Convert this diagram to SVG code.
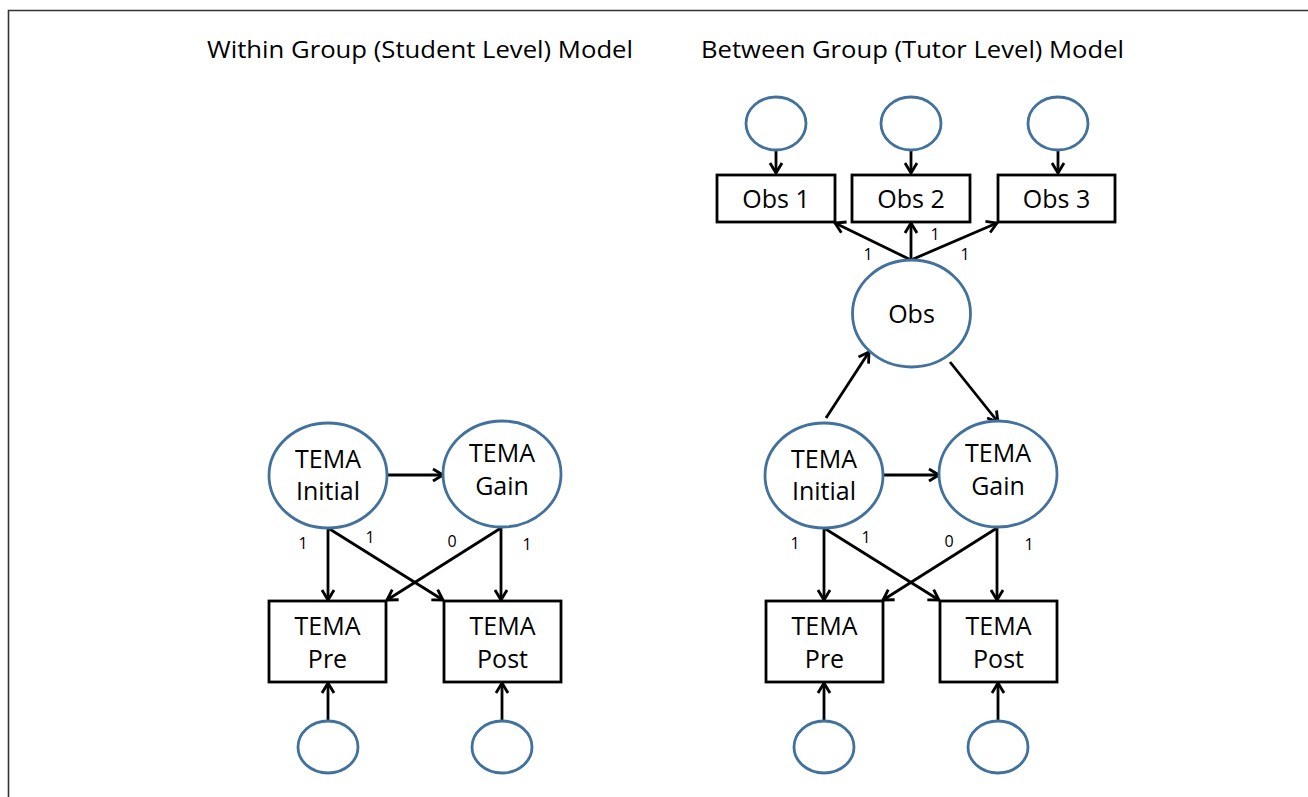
<svg xmlns="http://www.w3.org/2000/svg" width="1308" height="797" viewBox="0 0 1308 797">
<defs>
<marker id="ah" markerUnits="userSpaceOnUse" markerWidth="16" markerHeight="16" viewBox="0 0 16 16" refX="13" refY="8" orient="auto">
<path d="M3,2 L13,8 L3,14" fill="none" stroke="#000" stroke-width="2.8"/>
</marker>
</defs>
<style>
.t{font-family:"Open Sans","Liberation Sans",sans-serif;fill:#000;}
.title{font-size:23px;}
.nt{font-size:25px;text-anchor:middle;}
.lb{font-size:16px;text-anchor:middle;}
.el{fill:#fff;stroke:#41719C;stroke-width:2.8;}
.bx{fill:#fff;stroke:#000;stroke-width:2.8;}
.cn line{stroke:#000;stroke-width:2.8;marker-end:url(#ah);}
</style>
<rect width="1308" height="797" fill="#fff"/>
<path d="M8.5,797 L8.5,10.5 L1308,10.5" fill="none" stroke="#333" stroke-width="1.6"/>
<text class="t title" x="207" y="58" textLength="426" lengthAdjust="spacingAndGlyphs">Within Group (Student Level) Model</text>
<text class="t title" x="701" y="58" textLength="423" lengthAdjust="spacingAndGlyphs">Between Group (Tutor Level) Model</text>

<g class="cn" id="connectors">
<line x1="387" y1="475" x2="443" y2="475"/>
<line x1="328" y1="528" x2="328" y2="600"/>
<line x1="328" y1="528" x2="443" y2="600"/>
<line x1="501" y1="528" x2="387" y2="600"/>
<line x1="501" y1="528" x2="501" y2="600"/>
<line x1="328" y1="721" x2="328" y2="683"/>
<line x1="502" y1="721" x2="502" y2="683"/>

<line x1="883" y1="475" x2="939" y2="475"/>
<line x1="824" y1="528" x2="824" y2="600"/>
<line x1="824" y1="528" x2="939" y2="600"/>
<line x1="997" y1="528" x2="883" y2="600"/>
<line x1="997" y1="528" x2="997" y2="600"/>
<line x1="824" y1="721" x2="824" y2="683"/>
<line x1="998" y1="721" x2="998" y2="683"/>

<line x1="776" y1="150" x2="776" y2="173"/>
<line x1="911" y1="150" x2="911" y2="173"/>
<line x1="1058" y1="150" x2="1058" y2="173"/>
<line x1="911" y1="260" x2="835" y2="223"/>
<line x1="911" y1="260" x2="911" y2="223"/>
<line x1="911" y1="260" x2="997" y2="223"/>
<line x1="826" y1="418" x2="869" y2="352"/>
<line x1="950" y1="362" x2="998" y2="422"/>
</g>

<g id="labels">
<text class="t lb" x="303" y="549">1</text>
<text class="t lb" x="370" y="543">1</text>
<text class="t lb" x="452" y="547">0</text>
<text class="t lb" x="527" y="550">1</text>
<text class="t lb" x="795" y="549">1</text>
<text class="t lb" x="866" y="543">1</text>
<text class="t lb" x="949" y="547">0</text>
<text class="t lb" x="1029" y="550">1</text>
<text class="t lb" x="868" y="260">1</text>
<text class="t lb" x="935" y="240">1</text>
<text class="t lb" x="965" y="260">1</text>
</g>

<g id="w_initial"><ellipse class="el" cx="328" cy="475.5" rx="59" ry="52.5"/><text class="t nt" x="328" y="468">TEMA</text><text class="t nt" x="328" y="500">Initial</text></g>
<g id="w_gain"><ellipse class="el" cx="502" cy="474" rx="59" ry="53"/><text class="t nt" x="502" y="462">TEMA</text><text class="t nt" x="502" y="495">Gain</text></g>
<g id="w_pre"><rect class="bx" x="269" y="601" width="117" height="81"/><text class="t nt" x="327.5" y="635">TEMA</text><text class="t nt" x="327.5" y="668">Pre</text></g>
<g id="w_post"><rect class="bx" x="444" y="601" width="117" height="81"/><text class="t nt" x="502.5" y="635">TEMA</text><text class="t nt" x="502.5" y="668">Post</text></g>
<g id="w_epre"><ellipse class="el" cx="328" cy="747" rx="30" ry="26"/></g>
<g id="w_epost"><ellipse class="el" cx="502" cy="747" rx="30" ry="26"/></g>

<g id="b_initial"><ellipse class="el" cx="824" cy="475.5" rx="59" ry="52.5"/><text class="t nt" x="824" y="468">TEMA</text><text class="t nt" x="824" y="500">Initial</text></g>
<g id="b_gain"><ellipse class="el" cx="998" cy="474" rx="59" ry="53"/><text class="t nt" x="998" y="462">TEMA</text><text class="t nt" x="998" y="495">Gain</text></g>
<g id="b_pre"><rect class="bx" x="766" y="601" width="117" height="81"/><text class="t nt" x="824.5" y="635">TEMA</text><text class="t nt" x="824.5" y="668">Pre</text></g>
<g id="b_post"><rect class="bx" x="940" y="601" width="117" height="81"/><text class="t nt" x="998.5" y="635">TEMA</text><text class="t nt" x="998.5" y="668">Post</text></g>
<g id="b_epre"><ellipse class="el" cx="824" cy="747" rx="30" ry="26"/></g>
<g id="b_epost"><ellipse class="el" cx="998" cy="747" rx="30" ry="26"/></g>

<g id="obs"><ellipse class="el" cx="911.5" cy="313.5" rx="59" ry="53.5"/><text class="t nt" x="911.5" y="323">Obs</text></g>
<g id="obs1"><rect class="bx" x="717" y="175" width="118" height="47"/><text class="t nt" x="776" y="208">Obs 1</text></g>
<g id="obs2"><rect class="bx" x="852" y="175" width="118" height="47"/><text class="t nt" x="911" y="208">Obs 2</text></g>
<g id="obs3"><rect class="bx" x="998" y="175" width="117" height="47"/><text class="t nt" x="1056.5" y="208">Obs 3</text></g>
<g id="e_obs1"><ellipse class="el" cx="776" cy="123.5" rx="30" ry="26.5"/></g>
<g id="e_obs2"><ellipse class="el" cx="911" cy="123.5" rx="30" ry="26.5"/></g>
<g id="e_obs3"><ellipse class="el" cx="1058" cy="123.5" rx="30" ry="26.5"/></g>
</svg>
